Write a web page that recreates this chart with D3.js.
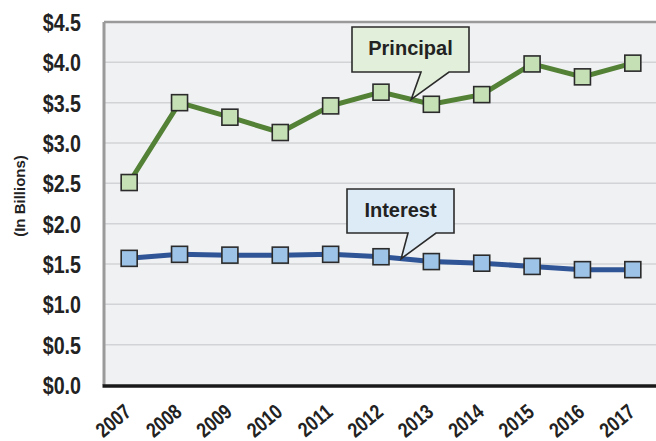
<!DOCTYPE html>
<html lang="en">
<head>
<meta charset="utf-8">
<script src="https://d3js.org/d3.v7.min.js"></script>
<style>
  body { margin: 0; background: #fff; }
  svg text { fill: #222; }
</style>
</head>
<body>
<div id="chart"></div>
<script>
// data
const years = ["2007", "2008", "2009", "2010", "2011", "2012", "2013", "2014", "2015", "2016", "2017"];
const principal = [2.51, 3.50, 3.32, 3.13, 3.46, 3.63, 3.48, 3.60, 3.98, 3.82, 3.99];
const interest = [1.57, 1.62, 1.61, 1.61, 1.62, 1.59, 1.53, 1.51, 1.47, 1.43, 1.43];
const yTicks = [0, 0.5, 1, 1.5, 2, 2.5, 3, 3.5, 4, 4.5];

const W = 656, H = 441;
const margin = {top: 22, right: -2, bottom: 56, left: 104};
const narrow = "'Liberation Sans', Arial, sans-serif";

const svg = d3.select("#chart").append("svg")
  .attr("width", W).attr("height", H);

const x = d3.scalePoint()
  .domain(years)
  .range([margin.left, W - margin.right])
  .padding(0.5);

const y = d3.scaleLinear()
  .domain([0, 4.5])
  .range([H - margin.bottom, margin.top]);

// plot background
svg.append("rect")
  .attr("x", margin.left).attr("y", margin.top)
  .attr("width", W - margin.left).attr("height", y(0) - margin.top)
  .attr("fill", "#f0f1f3");

// gridlines
svg.append("g")
  .selectAll("line")
  .data(yTicks.filter(d => d > 0 && d < 4.5))
  .join("line")
  .attr("x1", margin.left).attr("x2", W)
  .attr("y1", d => y(d)).attr("y2", d => y(d))
  .attr("stroke", "#d2d3d6").attr("stroke-width", 1.5);

// frame: top and left in gray
svg.append("line")
  .attr("x1", margin.left).attr("x2", W)
  .attr("y1", margin.top).attr("y2", margin.top)
  .attr("stroke", "#9a9a9a").attr("stroke-width", 2.5);
svg.append("line")
  .attr("x1", margin.left).attr("x2", margin.left)
  .attr("y1", margin.top).attr("y2", y(0))
  .attr("stroke", "#9a9a9a").attr("stroke-width", 3);

// y axis labels (condensed look via horizontal scale)
const yAxis = svg.append("g")
  .attr("transform", `translate(${margin.left},0)`)
  .call(d3.axisLeft(y).tickValues(yTicks).tickSize(0)
    .tickFormat(d => "$" + d3.format(".1f")(d)));
yAxis.select(".domain").remove();
yAxis.selectAll("text")
  .style("font-family", narrow)
  .style("font-weight", "bold")
  .style("font-size", "24px")
  .attr("fill", "#222")
  .attr("x", 0)
  .attr("dy", "0.35em")
  .attr("transform", "translate(-23,0) scale(0.82,1)");

// x axis
const xAxis = svg.append("g")
  .attr("transform", `translate(0,${y(0)})`)
  .call(d3.axisBottom(x).tickSize(0).tickPadding(0));
xAxis.select(".domain").remove();
xAxis.selectAll("text")
  .style("font-family", narrow)
  .style("font-weight", "bold")
  .style("font-size", "21px")
  .attr("fill", "#222")
  .attr("text-anchor", "end")
  .attr("dy", 0)
  .attr("y", 0)
  .attr("transform", "translate(3,29) rotate(-40) scale(0.82,1)");

svg.append("line")
  .attr("x1", margin.left - 1.5).attr("x2", W)
  .attr("y1", y(0) + 1).attr("y2", y(0) + 1)
  .attr("stroke", "#1a1a1a").attr("stroke-width", 3.5);

// y title
svg.append("text")
  .attr("transform", "translate(25,196) rotate(-90)")
  .attr("text-anchor", "middle")
  .style("font-family", "'Liberation Sans', Arial, sans-serif")
  .style("font-weight", "bold")
  .style("font-size", "15px")
  .text("(In Billions)");

// series
const series = [
  {name: "Principal", values: principal, line: "#538135", fill: "#c5e0b4"},
  {name: "Interest", values: interest, line: "#2f5597", fill: "#9dc3e6"}
];

const line = d3.line()
  .x((d, i) => x(years[i]))
  .y(d => y(d));

series.forEach(s => {
  svg.append("path")
    .datum(s.values)
    .attr("d", line)
    .attr("fill", "none")
    .attr("stroke", s.line)
    .attr("stroke-width", 5);
  svg.append("g")
    .selectAll("rect")
    .data(s.values)
    .join("rect")
    .attr("x", (d, i) => x(years[i]) - 8)
    .attr("y", d => y(d) - 8)
    .attr("width", 16).attr("height", 16)
    .attr("fill", s.fill)
    .attr("stroke", "#2b2b2b")
    .attr("stroke-width", 1.6);
});

// callouts (box + pointer to the line)
const callouts = [
  {text: "Principal", box: [352, 27, 117, 45], base: [421, 449], tipYear: "2012", tipFrac: 0.6, series: principal, fill: "#e2efda"},
  {text: "Interest", box: [347, 189, 107, 44], base: [408, 436], tipYear: "2012", tipFrac: 0.4, series: interest, fill: "#ddebf7"}
];

callouts.forEach(c => {
  const [bx, by, bw, bh] = c.box;
  const i = years.indexOf(c.tipYear);
  const tx = x(years[i]) + (x(years[i + 1]) - x(years[i])) * c.tipFrac;
  const ty = y(c.series[i] + (c.series[i + 1] - c.series[i]) * c.tipFrac);
  const pts = [
    [bx, by], [bx + bw, by], [bx + bw, by + bh],
    [c.base[1], by + bh], [tx, ty], [c.base[0], by + bh],
    [bx, by + bh]
  ];
  svg.append("path")
    .attr("d", d3.line()(pts) + "Z")
    .attr("fill", c.fill)
    .attr("stroke", "#2b2b2b")
    .attr("stroke-width", 1.6);
  svg.append("text")
    .attr("x", bx + bw / 2).attr("y", by + 28)
    .attr("text-anchor", "middle")
    .style("font-family", "'Liberation Sans', Arial, sans-serif")
    .style("font-weight", "bold")
    .style("font-size", "20px")
    .text(c.text);
});
</script>
</body>
</html>
